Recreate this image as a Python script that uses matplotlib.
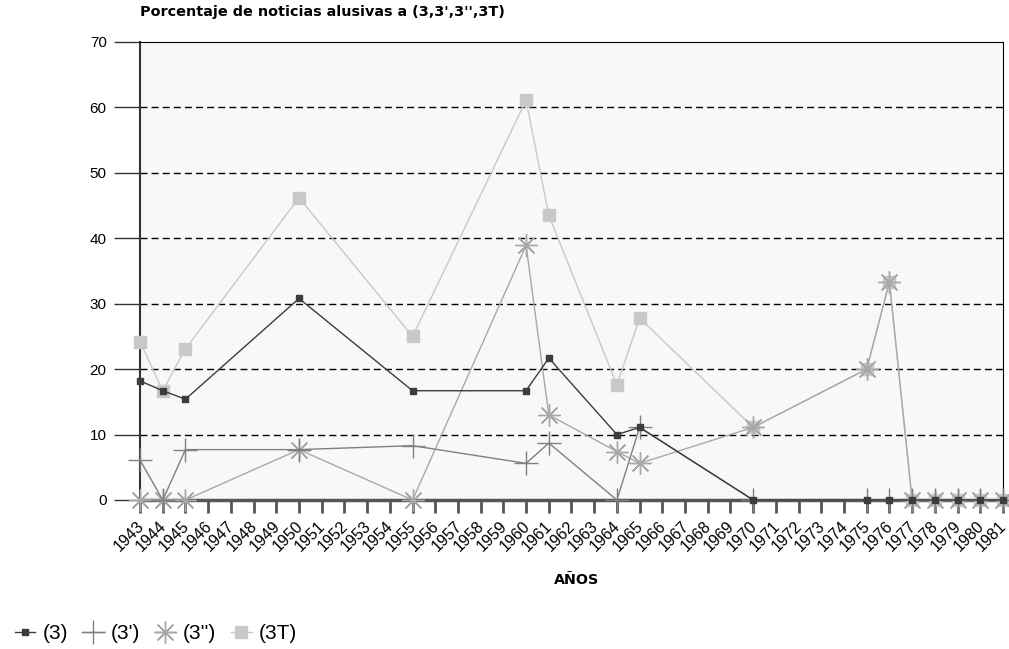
import numpy as np
import matplotlib
matplotlib.use("Agg")
import matplotlib.pyplot as plt
from matplotlib.transforms import ScaledTranslation

plt.rcParams['font.family'] = ['Liberation Sans', 'DejaVu Sans']

years = [str(y) for y in range(1943, 1982)]

# years that have data, and the values of each series
data_years = [1943, 1944, 1945, 1950, 1955, 1960, 1961, 1964, 1965, 1970,
              1975, 1976, 1977, 1978, 1979, 1980, 1981]
s3 = [18.2, 16.7, 15.4, 30.8, 16.7, 16.7, 21.7, 10.0, 11.1, 0,
      0, 0, 0, 0, 0, 0, 0]
s3p = [6.1, 0, 7.7, 7.7, 8.3, 5.6, 8.7, 0, 11.1, 0,
       0, 0, 0, 0, 0, 0, 0]
s3pp = [0, 0, 0, 7.7, 0, 38.9, 13.0, 7.4, 5.6, 11.1,
        20.0, 33.3, 0, 0, 0, 0, 0]
s3t = [24.2, 16.7, 23.1, 46.2, 25.0, 61.1, 43.5, 17.6, 27.8, 11.1,
       20.0, 33.3, 0, 0, 0, 0, 0]

labels = ["(3)", "(3')", "(3'')", "(3T)"]

xs = [years.index(str(y)) for y in data_years]

fig = plt.figure(figsize=(10.09, 6.49), dpi=100)
ax = fig.add_axes([0.1388, 0.2296, 0.994 - 0.1388, 0.9353 - 0.2296])
ax.set_facecolor('#f8f8f8')

asterisk = (8, 2, 0)
ax.plot(xs, s3t, color='#c8c8c8', lw=1, marker='s', ms=9, mec='#c8c8c8',
        label=labels[3], zorder=3, clip_on=False)
ax.plot(xs, s3pp, color='#a8a8a8', lw=1, marker=asterisk, ms=16, mew=1,
        label=labels[2], zorder=4, clip_on=False)
ax.plot(xs, s3p, color='#808080', lw=1, marker='+', ms=17, mew=1,
        label=labels[1], zorder=5, clip_on=False)
ax.plot(xs, s3, color='#3c3c3c', lw=1, marker='s', ms=4.5,
        label=labels[0], zorder=6, clip_on=False)

ax.set_xlim(0, len(years) - 1)
ax.set_ylim(0, 70)
ax.set_xticks(range(len(years)))
ax.set_yticks(range(0, 80, 10))
ax.tick_params(axis='y', length=19, width=1, color='#333333', labelsize=11, pad=5)
ax.tick_params(axis='x', length=9, width=2, color='#555555', pad=4)
ax.set_xticklabels(years, rotation=45, ha='right', va='top',
                   rotation_mode='anchor', fontsize=11.5)
shift = ScaledTranslation(-4 / 100, 0, fig.dpi_scale_trans)
for t in ax.get_xticklabels():
    t.set_transform(t.get_transform() + shift)

for yv in range(10, 70, 10):
    ax.axhline(yv, color='black', lw=1, ls=(0, (5, 3)), zorder=1)

ax.spines['left'].set_color('#333333')
ax.spines['left'].set_linewidth(1.5)
ax.spines['bottom'].set_color('#555555')
ax.spines['bottom'].set_linewidth(2.5)
ax.spines['top'].set_color('black')
ax.spines['right'].set_color('black')

fig.text(0.139, 0.981, "Porcentaje de noticias alusivas a (3,3',3'',3T)",
         fontsize=10.4, fontweight='bold', family='DejaVu Sans', ha='left', va='center')
fig.text(0.5715, 0.106, "AÑOS", fontsize=10.3, fontweight='bold', family='DejaVu Sans',
         ha='center', va='center')

h, l = ax.get_legend_handles_labels()
fig.legend(h[::-1], l[::-1], loc='center left', bbox_to_anchor=(0.0, 0.024),
           ncol=4, frameon=False, fontsize=15, handlelength=1.0, handletextpad=0.35,
           columnspacing=0.7, markerscale=1.0, borderpad=0.2)

fig.savefig("out.png", dpi=100)
